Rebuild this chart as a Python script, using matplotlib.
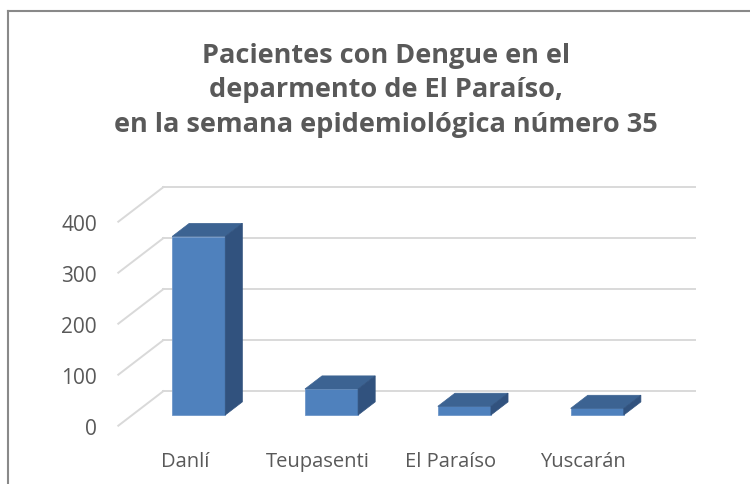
import matplotlib
matplotlib.use("Agg")
import matplotlib.pyplot as plt
from matplotlib.patches import Polygon
from matplotlib.lines import Line2D

# ---- data ----
categories = ["Danlí", "Teupasenti", "El Paraíso", "Yuscarán"]
values = [350, 51, 17, 13]
yticks = [0, 100, 200, 300, 400]
title_lines = ["Pacientes con Dengue en el",
               "deparmento de El Paraíso,",
               "en la semana epidemiológica número 35"]

# ---- style ----
FONT = "Open Sans"
TXT = "#595959"
GRID = "#d9d9d9"
FRONT = "#4f81bd"
TOP = "#3c6392"
SIDE = "#31527e"

W, H = 750, 485
fig = plt.figure(figsize=(W / 100, H / 100), dpi=100)
fig.patch.set_facecolor("white")

# front plane of the 3D box (pixels measured from reference)
left_px, right_px = 118.3, 649.7
zero_px, top_px = 426.7, 222.7
ax = fig.add_axes([left_px / W, (H - zero_px) / H,
                   (right_px - left_px) / W, (zero_px - top_px) / H])
ax.set_xlim(-0.5, len(categories) - 0.5)
ax.set_ylim(0, 400)
ax.patch.set_visible(False)
for s in ax.spines.values():
    s.set_visible(False)

# oblique depth in data units
DX = 45 / ((right_px - left_px) / len(categories))
DY = 34.5 / ((zero_px - top_px) / 400)
d0, d1 = 0.31, 0.69
bw = 0.40

x0, x1 = -0.5, len(categories) - 0.5
for t in yticks:
    ax.add_line(Line2D([x0 + DX, x1 + DX], [t + DY, t + DY], color=GRID,
                       lw=1.4, clip_on=False, zorder=1))
    ax.add_line(Line2D([x0, x0 + DX], [t, t + DY], color=GRID,
                       lw=1.4, clip_on=False, zorder=1))

xs = list(range(len(categories)))
# front faces
ax.bar([x + d0 * DX for x in xs], values, width=bw, bottom=d0 * DY,
       color=FRONT, edgecolor="#6f97c9", linewidth=0.6, clip_on=False, zorder=3)
for x, v in zip(xs, values):
    xl, xr = x - bw / 2, x + bw / 2
    top = [(xl + d0 * DX, v + d0 * DY), (xr + d0 * DX, v + d0 * DY),
           (xr + d1 * DX, v + d1 * DY), (xl + d1 * DX, v + d1 * DY)]
    side = [(xr + d0 * DX, d0 * DY), (xr + d1 * DX, d1 * DY),
            (xr + d1 * DX, v + d1 * DY), (xr + d0 * DX, v + d0 * DY)]
    ax.add_patch(Polygon(top, closed=True, facecolor=TOP, edgecolor=TOP,
                         lw=0.5, clip_on=False, zorder=3))
    ax.add_patch(Polygon(side, closed=True, facecolor=SIDE, edgecolor=SIDE,
                         lw=0.5, clip_on=False, zorder=3))

ax.set_yticks(yticks)
ax.set_yticklabels([str(t) for t in yticks], fontfamily=FONT, fontsize=15, color=TXT)
ax.set_xticks(xs)
ax.set_xticklabels(categories, fontfamily=FONT, fontsize=14.5, color=TXT)
ax.tick_params(axis="y", length=0, pad=15.5)
ax.tick_params(axis="x", length=0, pad=18.5)

# title
baselines = [62.7, 97.2, 131.7]
for line, b in zip(title_lines, baselines):
    fig.text(386 / W, 1 - b / H, line, ha="center", va="baseline",
             fontfamily=FONT, fontweight="bold", fontsize=19.5, color=TXT)

# chart border (top & left visible)
bc = "#898989"
fig.add_artist(Line2D([7.5 / W, 1.0], [1 - 11.5 / H, 1 - 11.5 / H],
                      transform=fig.transFigure, color=bc, lw=1.5))
fig.add_artist(Line2D([7.5 / W, 7.5 / W], [0, 1 - 11.5 / H],
                      transform=fig.transFigure, color=bc, lw=1.5))

fig.savefig("out.png", dpi=100)
